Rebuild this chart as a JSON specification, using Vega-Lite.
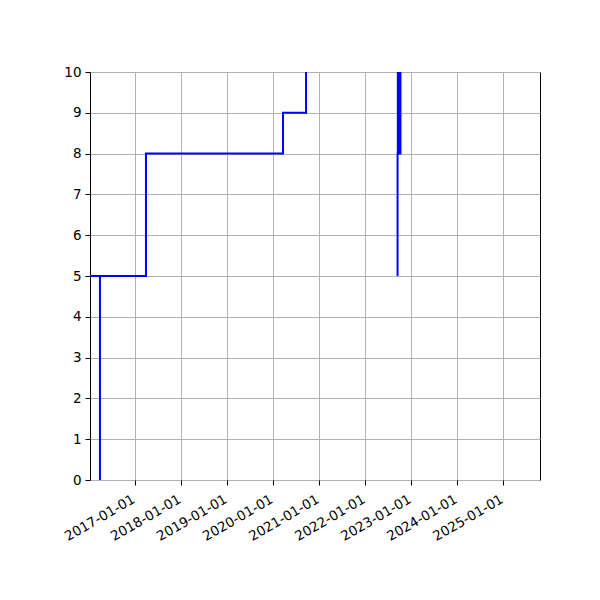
{
  "$schema": "https://vega.github.io/schema/vega-lite/v6.json",
  "width": 450,
  "height": 408,
  "autosize": {"type": "none"},
  "padding": {"left": 90, "top": 72, "right": 60, "bottom": 120},
  "background": "white",
  "config": {
    "view": {"stroke": "black", "strokeWidth": 1},
    "axis": {
      "labelFont": "DejaVu Sans",
      "labelFontSize": 13.5,
      "labelColor": "black",
      "gridColor": "#b0b0b0",
      "gridWidth": 1,
      "tickColor": "black",
      "tickSize": 5,
      "domain": false,
      "title": null,
      "labelOverlap": false
    }
  },
  "data": {
    "values": [
      {"o": 1, "date": "2015-12-01", "value": 5},
      {"o": 2, "date": "2016-03-29", "value": -1},
      {"o": 3, "date": "2016-03-29", "value": 5},
      {"o": 4, "date": "2017-03-29", "value": 8},
      {"o": 5, "date": "2020-03-20", "value": 9},
      {"o": 6, "date": "2020-09-19", "value": 12},
      {"o": 7, "date": "2022-09-17", "value": 8},
      {"o": 8, "date": "2022-09-24", "value": 12},
      {"o": 9, "date": "2022-10-01", "value": 8},
      {"o": 10, "date": "2022-10-08", "value": 12},
      {"o": 11, "date": "2022-10-08", "value": 8},
      {"o": 12, "date": "2022-09-15", "value": 5}
    ]
  },
  "mark": {"type": "line", "interpolate": "step-after", "color": "#0000ff", "strokeWidth": 2, "clip": true},
  "encoding": {
    "x": {
      "field": "date",
      "type": "temporal",
      "scale": {
        "type": "utc",
        "domain": [
          {"year": 2016, "month": 1, "date": 10, "utc": true},
          {"year": 2025, "month": 10, "date": 19, "utc": true}
        ]
      },
      "axis": {
        "values": [
          {"year": 2017, "month": 1, "date": 1, "utc": true},
          {"year": 2018, "month": 1, "date": 1, "utc": true},
          {"year": 2019, "month": 1, "date": 1, "utc": true},
          {"year": 2020, "month": 1, "date": 1, "utc": true},
          {"year": 2021, "month": 1, "date": 1, "utc": true},
          {"year": 2022, "month": 1, "date": 1, "utc": true},
          {"year": 2023, "month": 1, "date": 1, "utc": true},
          {"year": 2024, "month": 1, "date": 1, "utc": true},
          {"year": 2025, "month": 1, "date": 1, "utc": true}
        ],
        "format": "%Y-%m-%d",
        "labelAngle": -30,
        "labelAlign": "right",
        "labelBaseline": "top",
        "labelPadding": 7,
        "labelOffset": -5,
        "grid": true
      }
    },
    "y": {
      "field": "value",
      "type": "quantitative",
      "scale": {"domain": [0, 10], "nice": false, "zero": false},
      "axis": {"values": [0, 1, 2, 3, 4, 5, 6, 7, 8, 9, 10], "grid": true, "labelPadding": 4}
    },
    "order": {"field": "o", "type": "quantitative"}
  }
}
